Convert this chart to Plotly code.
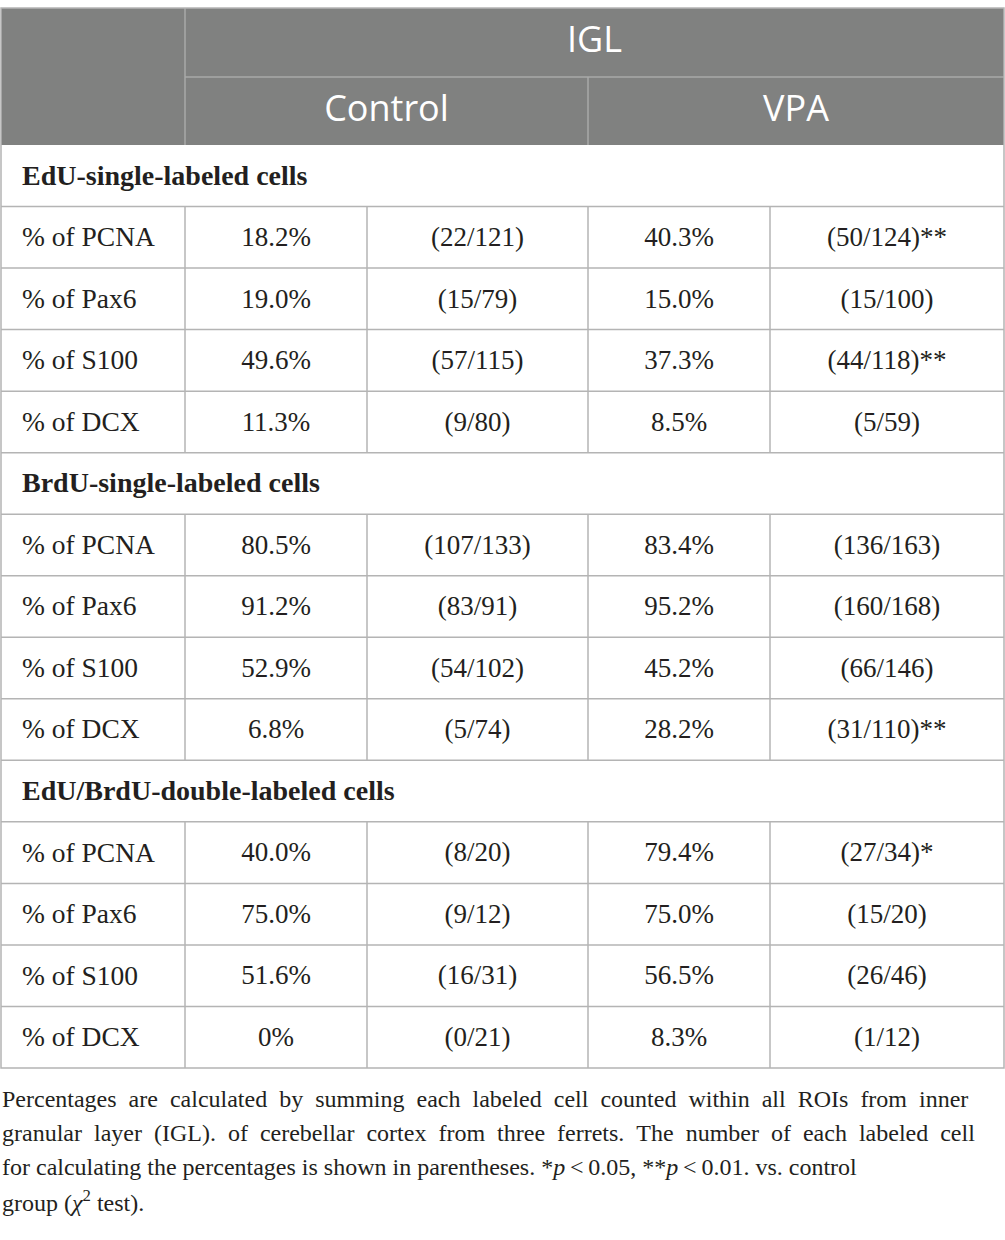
import plotly.graph_objects as go

# ---------------- data ----------------
top_header = "IGL"
group_headers = ["Control", "VPA"]
section_titles = ["EdU-single-labeled cells", "BrdU-single-labeled cells", "EdU/BrdU-double-labeled cells"]
markers = ["% of PCNA", "% of Pax6", "% of S100", "% of DCX"]

edu_control_pct = ["18.2%", "19.0%", "49.6%", "11.3%"]
edu_control_n = ["(22/121)", "(15/79)", "(57/115)", "(9/80)"]
edu_vpa_pct = ["40.3%", "15.0%", "37.3%", "8.5%"]
edu_vpa_n = ["(50/124)**", "(15/100)", "(44/118)**", "(5/59)"]

brdu_control_pct = ["80.5%", "91.2%", "52.9%", "6.8%"]
brdu_control_n = ["(107/133)", "(83/91)", "(54/102)", "(5/74)"]
brdu_vpa_pct = ["83.4%", "95.2%", "45.2%", "28.2%"]
brdu_vpa_n = ["(136/163)", "(160/168)", "(66/146)", "(31/110)**"]

dbl_control_pct = ["40.0%", "75.0%", "51.6%", "0%"]
dbl_control_n = ["(8/20)", "(9/12)", "(16/31)", "(0/21)"]
dbl_vpa_pct = ["79.4%", "75.0%", "56.5%", "8.3%"]
dbl_vpa_n = ["(27/34)*", "(15/20)", "(26/46)", "(1/12)"]

footnote_lines = [
    "Percentages are calculated by summing each labeled cell counted within all ROIs from inner",
    "granular layer (IGL). of cerebellar cortex from three ferrets. The number of each labeled cell",
    "for calculating the percentages is shown in parentheses. *<i>p</i>\u2009<\u20090.05, **<i>p</i>\u2009<\u20090.01. vs. control",
    "group (<i>\u03c7</i><sup>2</sup> test).",
]
justified = [True, True, False, False]

# ---------------- layout constants ----------------
W, H = 1005, 1240
col_edges = [1, 185, 367, 588, 770, 1004]
head_top, head_mid, head_bot = 8, 77, 145
table_bot = 1068
label_x = 22

HEAD_FILL = "rgb(128,129,128)"
HEAD_LINE = "rgb(168,170,168)"
GRID = "rgb(180,180,180)"
TXT = "#231f20"
SERIF = "Liberation Serif"
SANS = "Open Sans"

blocks = [
    (section_titles[0], edu_control_pct, edu_control_n, edu_vpa_pct, edu_vpa_n),
    (section_titles[1], brdu_control_pct, brdu_control_n, brdu_vpa_pct, brdu_vpa_n),
    (section_titles[2], dbl_control_pct, dbl_control_n, dbl_vpa_pct, dbl_vpa_n),
]

rows = []  # (kind, cells)
for title, cp, cn, vp, vn in blocks:
    rows.append(("section", [title]))
    for i, m in enumerate(markers):
        rows.append(("data", [m, cp[i], cn[i], vp[i], vn[i]]))

n_rows = len(rows)
row_h = (table_bot - head_bot) / n_rows
row_top = [head_bot + i * row_h for i in range(n_rows)]
row_mid = [t + row_h / 2 + 2 for t in row_top]
col_mid = [(col_edges[i] + col_edges[i + 1]) / 2 for i in range(len(col_edges) - 1)]

fig = go.Figure()

# ---------------- shapes ----------------
shapes = []
shapes.append(dict(type="rect", x0=col_edges[0], x1=col_edges[-1], y0=head_top, y1=head_bot,
                   fillcolor=HEAD_FILL, line=dict(width=0), layer="below"))
shapes.append(dict(type="line", x0=col_edges[1], x1=col_edges[1], y0=head_top, y1=head_bot,
                   line=dict(color=HEAD_LINE, width=1.5)))
shapes.append(dict(type="line", x0=col_edges[1], x1=col_edges[-1], y0=head_mid, y1=head_mid,
                   line=dict(color=HEAD_LINE, width=1.5)))
shapes.append(dict(type="line", x0=col_edges[3], x1=col_edges[3], y0=head_mid, y1=head_bot,
                   line=dict(color=HEAD_LINE, width=1.5)))
shapes.append(dict(type="rect", x0=col_edges[0], x1=col_edges[-1], y0=head_top, y1=table_bot,
                   fillcolor="rgba(0,0,0,0)", line=dict(color=GRID, width=1.5)))
for i in range(1, n_rows):
    shapes.append(dict(type="line", x0=col_edges[0], x1=col_edges[-1], y0=row_top[i], y1=row_top[i],
                       line=dict(color=GRID, width=1.5)))
for i, (kind, _) in enumerate(rows):
    if kind == "data":
        for xe in col_edges[1:-1]:
            shapes.append(dict(type="line", x0=xe, x1=xe, y0=row_top[i], y1=row_top[i] + row_h,
                               line=dict(color=GRID, width=1.5)))

# ---------------- header text ----------------
fig.add_trace(go.Scatter(
    x=[(col_edges[1] + col_edges[-1]) / 2, (col_edges[1] + col_edges[3]) / 2, (col_edges[3] + col_edges[-1]) / 2],
    y=[(head_top + head_mid) / 2, (head_mid + head_bot) / 2 + 1, (head_mid + head_bot) / 2 + 1],
    text=[top_header] + group_headers, mode="text", textposition="middle center",
    textfont=dict(family=SANS, size=36, color="white"), hoverinfo="skip", showlegend=False))

# ---------------- body text ----------------
sec_x, sec_y, sec_t = [], [], []
lab_x, lab_y, lab_t = [], [], []
cx, cy, ct = [], [], []
for i, (kind, cells) in enumerate(rows):
    if kind == "section":
        sec_x.append(label_x); sec_y.append(row_mid[i]); sec_t.append("<b>" + cells[0] + "</b>")
    else:
        lab_x.append(label_x); lab_y.append(row_mid[i]); lab_t.append(cells[0])
        for j in range(1, 5):
            cx.append(col_mid[j]); cy.append(row_mid[i]); ct.append(cells[j])

fig.add_trace(go.Scatter(x=sec_x, y=sec_y, text=sec_t, mode="text", textposition="middle right",
                         textfont=dict(family=SERIF, size=28, color=TXT), hoverinfo="skip", showlegend=False))
fig.add_trace(go.Scatter(x=lab_x, y=lab_y, text=lab_t, mode="text", textposition="middle right",
                         textfont=dict(family=SERIF, size=27.5, color=TXT), hoverinfo="skip", showlegend=False))
fig.add_trace(go.Scatter(x=cx, y=cy, text=ct, mode="text", textposition="middle center",
                         textfont=dict(family=SERIF, size=27, color=TXT), hoverinfo="skip", showlegend=False))

# ---------------- footnote ----------------
annotations = []
for k, line in enumerate(footnote_lines):
    txt = line.replace(" ", "\u2002") if justified[k] else line
    annotations.append(dict(x=0, y=1099 + k * 34, xref="x", yref="y", text=txt, showarrow=False,
                            xanchor="left", yanchor="middle", align="left",
                            font=dict(family=SERIF, size=24, color=TXT)))

fig.update_layout(
    width=W, height=H, margin=dict(l=0, r=0, t=0, b=0),
    paper_bgcolor="white", plot_bgcolor="white",
    xaxis=dict(range=[0, W], visible=False, fixedrange=True),
    yaxis=dict(range=[H, 0], visible=False, fixedrange=True),
    shapes=shapes, annotations=annotations,
)

fig.write_html("out.html", config={"displayModeBar": False},
               post_script="document.body.style.margin='0';document.body.style.overflow='hidden';")
